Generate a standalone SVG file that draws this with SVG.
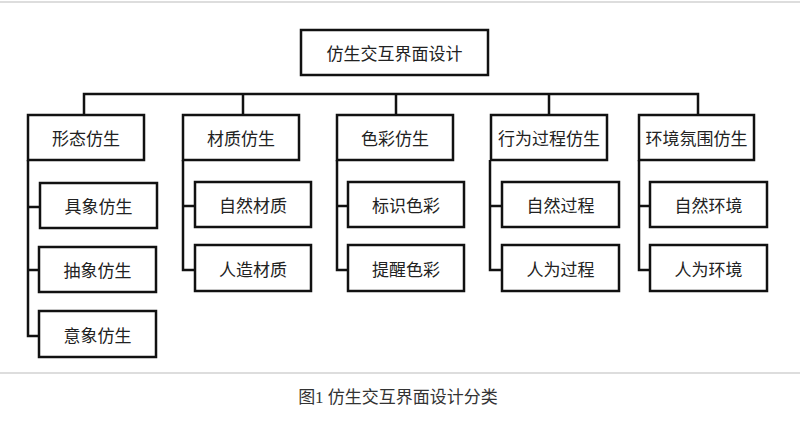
<svg xmlns="http://www.w3.org/2000/svg" width="800" height="443" viewBox="0 0 800 443">
<style>
.b{fill:#fff;stroke:#111;stroke-width:2.5}
.t{font-family:"Noto Sans CJK SC","Noto Sans",sans-serif;font-size:17px;fill:#222;text-anchor:middle;dominant-baseline:central}
.c{fill:none;stroke:#111;stroke-width:2.5}
.g{stroke:#ddd;stroke-width:2}
.cap{font-family:"Liberation Serif","Noto Sans CJK SC",serif;font-size:17px;fill:#333;text-anchor:middle}
</style>
<rect width="800" height="443" fill="#fff"/>
<line class="g" x1="0" y1="2" x2="800" y2="2"/>
<line class="g" x1="0" y1="373" x2="800" y2="373"/>
<g id="connectors">
<path class="c" d="M84,115V94H698V115M243,94V115M396,94V115M549,94V115"/>
<path class="c" d="M28,160V336H40M28,207H40M28,270H40"/>
<path class="c" d="M183,160V270H195M183,206H195"/>
<path class="c" d="M337,160V270H348M337,206H348"/>
<path class="c" d="M490,160V270H502M490,206H502"/>
<path class="c" d="M639,160V270H650M639,206H650"/>
</g>
<g id="root"><rect class="b" x="301" y="30" width="187" height="45"/><text class="t" x="394.5" y="52.5">仿生交互界面设计</text></g>
<g id="n1"><rect class="b" x="28" y="115" width="116" height="45"/><text class="t" x="86" y="137.5">形态仿生</text></g>
<g id="n2"><rect class="b" x="183" y="115" width="116" height="45"/><text class="t" x="241" y="137.5">材质仿生</text></g>
<g id="n3"><rect class="b" x="337" y="115" width="116" height="45"/><text class="t" x="395" y="137.5">色彩仿生</text></g>
<g id="n4"><rect class="b" x="491" y="115" width="116" height="45"/><text class="t" x="549" y="137.5">行为过程仿生</text></g>
<g id="n5"><rect class="b" x="639" y="115" width="115" height="45"/><text class="t" x="696.5" y="137.5">环境氛围仿生</text></g>
<g id="n1a"><rect class="b" x="40" y="183" width="117" height="45"/><text class="t" x="98.5" y="205.5">具象仿生</text></g>
<g id="n1b"><rect class="b" x="39" y="247" width="117" height="45"/><text class="t" x="97.5" y="269.5">抽象仿生</text></g>
<g id="n1c"><rect class="b" x="39" y="311" width="117" height="46"/><text class="t" x="97.5" y="334">意象仿生</text></g>
<g id="n2a"><rect class="b" x="195" y="182" width="116" height="45"/><text class="t" x="253" y="204.5">自然材质</text></g>
<g id="n2b"><rect class="b" x="195" y="245" width="116" height="46"/><text class="t" x="253" y="268">人造材质</text></g>
<g id="n3a"><rect class="b" x="348" y="182" width="116" height="45"/><text class="t" x="406" y="204.5">标识色彩</text></g>
<g id="n3b"><rect class="b" x="348" y="245" width="116" height="46"/><text class="t" x="406" y="268">提醒色彩</text></g>
<g id="n4a"><rect class="b" x="502" y="182" width="117" height="45"/><text class="t" x="560.5" y="204.5">自然过程</text></g>
<g id="n4b"><rect class="b" x="502" y="245" width="117" height="46"/><text class="t" x="560.5" y="268">人为过程</text></g>
<g id="n5a"><rect class="b" x="650" y="182" width="117" height="45"/><text class="t" x="708.5" y="204.5">自然环境</text></g>
<g id="n5b"><rect class="b" x="650" y="245" width="117" height="46"/><text class="t" x="708.5" y="268">人为环境</text></g>
<text class="cap" x="398" y="403">图1 仿生交互界面设计分类</text>
</svg>
